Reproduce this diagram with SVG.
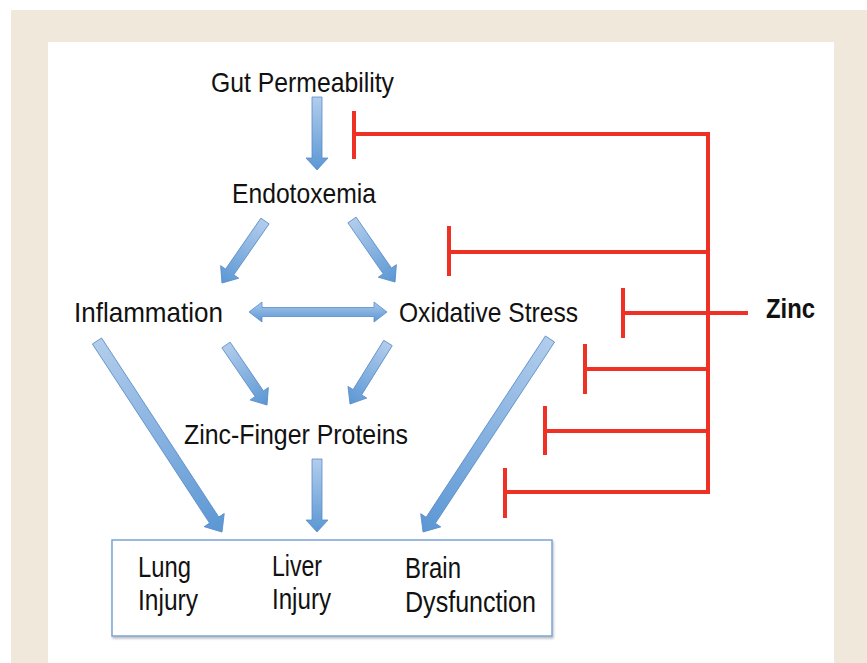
<svg xmlns="http://www.w3.org/2000/svg" width="867" height="663" viewBox="0 0 867 663">
<style>
.lbl{font-family:"Liberation Sans",Arial,sans-serif;font-size:28px;fill:#111}
.box{font-size:30px}
.zinc{font-weight:bold}
.arr{fill:url(#ga);stroke:#5A8CC8;stroke-width:0.8}
.red{fill:none;stroke:#EE3124;stroke-width:4;stroke-linejoin:miter}
</style>
<defs>
<linearGradient id="ga" x1="0" y1="0" x2="1" y2="0">
<stop offset="0" stop-color="#B2CDEC"/>
<stop offset="1" stop-color="#5B97D4"/>
</linearGradient>
<linearGradient id="gv" x1="0" y1="0" x2="0" y2="1">
<stop offset="0" stop-color="#A9C8EA"/>
<stop offset="1" stop-color="#5B97D4"/>
</linearGradient>
<filter id="sh" x="-5%" y="-5%" width="110%" height="115%">
<feDropShadow dx="1" dy="2" stdDeviation="1.2" flood-color="#000" flood-opacity="0.25"/>
</filter>
</defs>
<rect x="0" y="0" width="867" height="663" fill="#ffffff"/>
<rect x="11" y="10" width="856" height="653" fill="#EFE8DB"/>
<rect x="48" y="42" width="786" height="621" fill="#ffffff"/>

<g id="connectors">
<polygon class="arr" transform="translate(317,97) rotate(90)" points="0,-5 61,-5 61,-11 73,0 61,11 61,5 0,5"/>
<polygon class="arr" transform="translate(265,221) rotate(124.74)" points="0,-5 62,-5 62,-11 75.5,0 62,11 62,5 0,5"/>
<polygon class="arr" transform="translate(352,220) rotate(55.26)" points="0,-5 62,-5 62,-11 75.5,0 62,11 62,5 0,5"/>
<polygon class="arr" transform="translate(226,345) rotate(55.65)" points="0,-5 59,-5 59,-11 72.7,0 59,11 59,5 0,5"/>
<polygon class="arr" transform="translate(388,343) rotate(121.9)" points="0,-5 58,-5 58,-11 71.9,0 58,11 58,5 0,5"/>
<polygon class="arr" transform="translate(97,341) rotate(56.8)" points="0,-5.5 214,-5.5 214,-12 228.3,0 214,12 214,5.5 0,5.5"/>
<polygon class="arr" transform="translate(317,459) rotate(90)" points="0,-5 61,-5 61,-11 73,0 61,11 61,5 0,5"/>
<polygon class="arr" transform="translate(550,339) rotate(123.34)" points="0,-5.5 217,-5.5 217,-12 231,0 217,12 217,5.5 0,5.5"/>
<polygon class="arr" style="fill:url(#gv)" points="249,312 262,302 262,307.5 374,307.5 374,302 387,312 374,322 374,316.5 262,316.5 262,322"/>

<g id="zinc-inhibition">
<path class="red" d="M354,134 H708 V492 H505"/>
<path class="red" d="M354,111 V159"/>
<path class="red" d="M449,252 H708"/>
<path class="red" d="M449,226 V276"/>
<path class="red" d="M623,313 H748"/>
<path class="red" d="M623,288 V338"/>
<path class="red" d="M585,369 H708"/>
<path class="red" d="M585,344 V394"/>
<path class="red" d="M545,431 H708"/>
<path class="red" d="M545,406 V455"/>
<path class="red" d="M505,468 V518"/>
</g>
</g>

<g id="gut"><text class="lbl" x="211" y="92" textLength="183" lengthAdjust="spacingAndGlyphs">Gut Permeability</text></g>
<g id="endotoxemia"><text class="lbl" x="232" y="203" textLength="144" lengthAdjust="spacingAndGlyphs">Endotoxemia</text></g>
<g id="inflammation"><text class="lbl" x="74" y="322" textLength="149" lengthAdjust="spacingAndGlyphs">Inflammation</text></g>
<g id="oxidative"><text class="lbl" x="399" y="322" textLength="179" lengthAdjust="spacingAndGlyphs">Oxidative Stress</text></g>
<g id="zfp"><text class="lbl" x="184" y="444" textLength="224" lengthAdjust="spacingAndGlyphs">Zinc-Finger Proteins</text></g>
<g id="zinc"><text class="lbl zinc" x="766" y="318" textLength="49" lengthAdjust="spacingAndGlyphs">Zinc</text></g>

<g id="outcomes">
<rect x="112" y="540" width="440" height="96" fill="#ffffff" stroke="#7CA3D6" stroke-width="1.5" filter="url(#sh)"/>
<text class="lbl box" x="138" y="577" textLength="53" lengthAdjust="spacingAndGlyphs">Lung</text>
<text class="lbl box" x="138" y="610" textLength="60" lengthAdjust="spacingAndGlyphs">Injury</text>
<text class="lbl box" x="272" y="576" textLength="50" lengthAdjust="spacingAndGlyphs">Liver</text>
<text class="lbl box" x="272" y="609" textLength="59" lengthAdjust="spacingAndGlyphs">Injury</text>
<text class="lbl box" x="405" y="578" textLength="56" lengthAdjust="spacingAndGlyphs">Brain</text>
<text class="lbl box" x="405" y="612" textLength="131" lengthAdjust="spacingAndGlyphs">Dysfunction</text>
</g>
</svg>
